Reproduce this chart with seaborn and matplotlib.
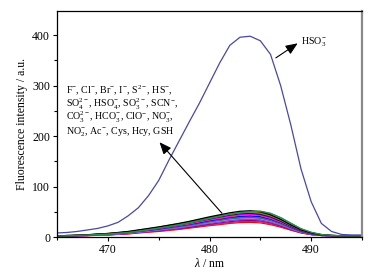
import numpy as np
import pandas as pd
import matplotlib
matplotlib.use("Agg")
import matplotlib.pyplot as plt
from matplotlib.ticker import MultipleLocator
import seaborn as sns

# wavelength grid (nm)
wavelength = list(range(465, 496))

# HSO3- response
hso3 = [8, 9, 11, 14, 17, 22, 29, 42, 58, 82, 112, 152, 190, 228, 265, 305,
        345, 380, 396, 398, 389, 362, 300, 222, 135, 70, 27, 11, 5, 4, 4]

# other analytes (drawn lowest first, so black / green end up on top)
others = ["red", "magenta", "purple", "violet", "blueviolet", "pink", "teal",
          "royal", "purple2", "blue", "orange", "magenta2", "navy", "wine",
          "cyan", "olive", "green", "black", "green2"]
other_colors = ["#ff0000", "#e0206a", "#800080", "#9933ff", "#6a5acd", "#ff66cc",
                "#008080", "#3366cc", "#a040a0", "#0000ff", "#cc6600", "#ff00ff",
                "#000080", "#800000", "#20b2aa", "#808000", "#228b22", "#000000",
                "#2e8b57"]
other_vals = [
    [2, 2, 2, 2.5, 3.5, 4, 5, 6, 8, 9.5, 11, 13, 15, 17.5, 20, 22.5, 24.5, 27, 28.5, 29, 28, 24.5, 19.5, 13.5, 8, 4.5, 3, 2.5, 2.5, 2.5, 2.5],
    [2, 2, 2.5, 3, 3.5, 4, 5.5, 6.5, 8.5, 10, 12, 14, 16, 18.5, 21, 24, 26, 28.5, 30.5, 31, 30, 26, 21, 14.5, 8.5, 5, 3, 2.5, 2.5, 2.5, 2.5],
    [2, 2, 2.5, 3, 4, 4.5, 5.5, 7, 9, 11, 12.5, 15, 17, 19.5, 22.5, 25.5, 28, 30.5, 32.5, 33, 32, 28, 22, 15, 9, 5, 3, 2.5, 2.5, 2.5, 2.5],
    [2, 2, 2.5, 3, 4, 4.5, 6, 7.5, 9.5, 11.5, 13.5, 16, 18, 21, 24, 27, 29.5, 32.5, 34, 35, 33.5, 29.5, 23.5, 16, 9.5, 5.5, 3, 2.5, 2.5, 2.5, 2.5],
    [2, 2, 2.5, 3, 4, 5, 6, 7.5, 9.5, 11.5, 14, 16, 18.5, 21.5, 24.5, 27.5, 30.5, 33, 35, 36, 34.5, 30.5, 24, 16.5, 9.5, 5.5, 3, 2.5, 2.5, 2.5, 2.5],
    [2, 2, 2.5, 3.5, 4.5, 5, 6.5, 8, 10, 12.5, 14.5, 17, 19.5, 22.5, 26, 29, 32, 35, 37, 38, 36.5, 32, 25.5, 17.5, 10, 6, 3.5, 2.5, 2.5, 2.5, 2.5],
    [2, 2.5, 3, 3.5, 4.5, 5, 7, 8, 10.5, 13, 15, 17.5, 20, 23, 26.5, 30, 33, 36, 38, 39, 37.5, 33, 26, 18, 10.5, 6, 3.5, 2.5, 2.5, 2.5, 2.5],
    [2, 2.5, 3, 3.5, 4.5, 5.5, 7, 8.5, 11, 13, 15.5, 18, 21, 24, 27.5, 31, 34, 37, 39, 40, 38.5, 34, 27, 18.5, 11, 6, 3.5, 2.5, 2.5, 2.5, 2.5],
    [2, 2.5, 3, 3.5, 4.5, 5.5, 7, 8.5, 11, 13.5, 16, 18.5, 21.5, 24.5, 28, 31.5, 34.5, 38, 40, 41, 39.5, 34.5, 27.5, 19, 11, 6.5, 3.5, 2.5, 2.5, 2.5, 2.5],
    [2, 2.5, 3, 3.5, 5, 5.5, 7.5, 9, 11.5, 13.5, 16, 19, 22, 25, 28.5, 32.5, 35.5, 39, 41, 42, 40.5, 35.5, 28.5, 19.5, 11.5, 6.5, 3.5, 2.5, 2.5, 2.5, 2.5],
    [2, 2.5, 3, 4, 5, 6, 7.5, 9.5, 12, 14.5, 17, 20, 23, 26, 30, 34, 37, 40.5, 43, 44, 42.5, 37, 29.5, 20.5, 12, 7, 4, 2.5, 2.5, 2.5, 2.5],
    [2, 2.5, 3, 4, 5, 6, 8, 9.5, 12, 14.5, 17.5, 20.5, 23.5, 27, 30.5, 34.5, 38, 41.5, 44, 45, 43.5, 38, 30.5, 21, 12, 7, 4, 2.5, 2.5, 2.5, 2.5],
    [2, 2.5, 3, 4, 5, 6.5, 8, 10, 12.5, 15.5, 18, 21, 24.5, 28, 32, 36, 40, 43.5, 46, 47, 45, 40, 31.5, 21.5, 12.5, 7, 4, 3, 2.5, 2.5, 2.5],
    [2, 2.5, 3, 4, 5.5, 6.5, 8, 10, 13, 15.5, 18.5, 21.5, 25, 28.5, 33, 37, 40.5, 44, 47, 48, 46, 40.5, 32.5, 22, 13, 7.5, 4, 3, 2.5, 2.5, 2.5],
    [2, 3, 3.5, 4, 5.5, 6.5, 8.5, 10, 13, 16, 19, 22, 25.5, 29, 33.5, 37.5, 41.5, 45, 48, 49, 47.5, 42, 33.5, 23, 13.5, 7.5, 4.5, 3, 2.5, 2.5, 2.5],
    [2, 3, 3.5, 4.5, 5.5, 7, 8.5, 10.5, 13.5, 16.5, 19.5, 23, 26.5, 30, 34, 38.5, 42.5, 46, 49, 50, 48.5, 43, 34.5, 24, 14, 8, 4.5, 3, 2.5, 2.5, 2.5],
    [2, 2.5, 3, 4, 5, 6, 7.5, 9.5, 12, 15, 18, 21, 25, 29, 33, 37.5, 42, 46, 49, 51, 51, 46.5, 38, 27, 16, 9, 5, 3, 2.5, 2.5, 2.5],
    [2, 3, 3.5, 4.5, 6, 7, 9, 11, 14, 17, 20, 23.5, 27, 31, 35.5, 40, 44, 48, 51, 52, 50, 44, 35, 24, 14, 8, 4.5, 3, 2.5, 2.5, 2.5],
    [2, 2.5, 3, 4, 5, 6, 7.5, 9, 11.5, 14.5, 17.5, 20.5, 24, 28, 32, 36.5, 41, 45.5, 48.5, 50.5, 51, 47, 38.5, 27.5, 16.5, 9.5, 5, 3, 2.5, 2.5, 2.5],
]

rows = []
for name, vals in zip(others, other_vals):
    for w, v in zip(wavelength, vals):
        rows.append((name, w, v))
for w, v in zip(wavelength, hso3):
    rows.append(("HSO3", w, v))
df = pd.DataFrame(rows, columns=["ion", "wl", "I"])

palette = dict(zip(others, other_colors))
palette["HSO3"] = "#4848a8"

sns.set_theme(style="ticks")
plt.rcParams["font.family"] = ["Liberation Serif", "DejaVu Serif"]
plt.rcParams["mathtext.fontset"] = "custom"
plt.rcParams["mathtext.rm"] = "Liberation Serif"
plt.rcParams["mathtext.it"] = "Liberation Serif:italic"
for k in ["text.color", "axes.labelcolor", "xtick.color", "ytick.color"]:
    plt.rcParams[k] = "black"

fig, ax = plt.subplots(figsize=(3.74, 2.72), dpi=100)
fig.subplots_adjust(left=57/374, right=362/374, top=1-11/272, bottom=1-237/272)

sns.lineplot(data=df, x="wl", y="I", hue="ion", hue_order=others + ["HSO3"],
             palette=palette, legend=False, linewidth=0.9, ax=ax)

ax.set_xlim(465, 495)
ax.set_ylim(0, 448)
ax.xaxis.set_major_locator(MultipleLocator(10))
ax.xaxis.set_minor_locator(MultipleLocator(5))
ax.yaxis.set_major_locator(MultipleLocator(100))
ax.yaxis.set_minor_locator(MultipleLocator(50))
ax.tick_params(which="major", direction="out", length=3, width=0.8, labelsize=8.5, pad=2)
ax.tick_params(which="minor", direction="out", length=2, width=0.8)
for s in ["left", "bottom", "top"]:
    ax.spines[s].set_color("black")
    ax.spines[s].set_linewidth(0.9)
ax.spines["right"].set_color("#8a8a8a")
ax.spines["right"].set_linewidth(1.6)

ax.set_xlabel(r"$\lambda$ / nm", fontsize=8.5, labelpad=1)
ax.set_ylabel("Fluorescence intensity / a.u.", fontsize=8.5, labelpad=3)

lines = [r"F$^{-}$, Cl$^{-}$, Br$^{-}$, I$^{-}$, S$^{2-}$, HS$^{-}$,",
         r"SO$_4^{2-}$, HSO$_4^{-}$, SO$_3^{2-}$, SCN$^{-}$,",
         r"CO$_3^{2-}$, HCO$_3^{-}$, ClO$^{-}$, NO$_3^{-}$,",
         r"NO$_2^{-}$, Ac$^{-}$, Cys, Hcy, GSH"]
line_y = [291, 263, 236, 208]
for t, y in zip(lines, line_y):
    ax.text(465.9, y, t, fontsize=7.2, ha="left", va="center")

ax.annotate("", xy=(474.9, 192), xytext=(481.4, 43),
            arrowprops=dict(arrowstyle="-|>,head_length=0.6,head_width=0.25", color="black", lw=0.8))
ax.annotate("", xy=(488.9, 387), xytext=(486.3, 352),
            arrowprops=dict(arrowstyle="-|>,head_length=0.6,head_width=0.25", color="black", lw=0.8))
ax.text(489.0, 387, r"HSO$_3^{-}$", fontsize=7.2, ha="left", va="center")

fig.savefig("out.png", dpi=100)
